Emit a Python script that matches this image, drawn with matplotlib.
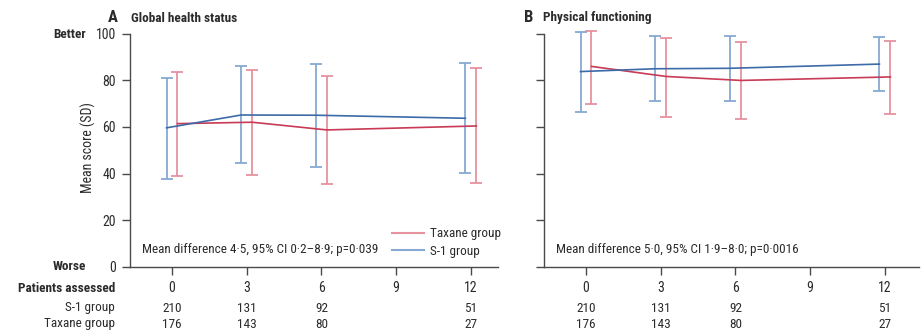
import matplotlib
matplotlib.use("Agg")
import matplotlib.pyplot as plt
from matplotlib import font_manager

# ---------------- data ----------------
months = [0, 3, 6, 12]
tick_months = [0, 3, 6, 9, 12]
tick_labels = ["0", "3", "6", "9", "12"]
yticks = [0, 20, 40, 60, 80, 100]

a_s1_mean = [59.6, 65.1, 65.0, 63.7]
a_s1_upper = [81.0, 85.9, 87.1, 87.3]
a_s1_lower = [37.7, 44.7, 43.0, 40.4]
a_tax_mean = [61.4, 62.0, 58.7, 60.4]
a_tax_upper = [83.6, 84.4, 81.7, 85.1]
a_tax_lower = [38.9, 39.3, 35.4, 35.9]

b_s1_mean = [83.7, 84.9, 85.1, 86.9]
b_s1_upper = [100.6, 99.1, 98.9, 98.3]
b_s1_lower = [66.3, 70.9, 71.3, 75.4]
b_tax_mean = [85.9, 81.6, 79.9, 81.4]
b_tax_upper = [100.9, 98.0, 96.3, 97.0]
b_tax_lower = [69.6, 64.4, 63.4, 65.7]

n_s1 = ["210", "131", "92", "51"]
n_tax = ["176", "143", "80", "27"]

title_a = "Global health status"
title_b = "Physical functioning"
note_a = "Mean difference 4\u00b75, 95% CI 0\u00b72\u20138\u00b79; p=0\u00b7039"
note_b = "Mean difference 5\u00b70, 95% CI 1\u00b79\u20138\u00b70; p=0\u00b70016"

# ---------------- style ----------------
def pick_font():
    for name in ["Liberation Sans Narrow", "Roboto Condensed", "Open Sans Condensed"]:
        try:
            font_manager.findfont(name, fallback_to_default=False)
            return name
        except Exception:
            pass
    return "Liberation Sans"

FONT = pick_font()
plt.rcParams['font.family'] = [FONT, 'DejaVu Sans']

TXT = "#2b2b2b"
AX = "#4a4a4a"
BLUE = "#3d6aa8"
BLUE_L = "#86a9d3"
RED = "#c83a55"
RED_L = "#e6929f"
FS = 9.5

W, H = 923, 332
fig = plt.figure(figsize=(W / 100, H / 100), dpi=100)

def px_to_fig(x0, x1, ytop, ybot):
    return [x0 / W, 1 - ybot / H, (x1 - x0) / W, (ybot - ytop) / H]

axA = fig.add_axes(px_to_fig(130, 498, 33.5, 267))
axB = fig.add_axes(px_to_fig(544, 919, 33.5, 267))

OFF = 0.22

def draw(ax, s1m, s1u, s1l, tm, tu, tl, xr):
    xs1 = [m - OFF for m in months]
    xtx = [m + OFF for m in months]
    ax.errorbar(xs1, s1m,
                yerr=[[m - l for m, l in zip(s1m, s1l)], [u - m for m, u in zip(s1m, s1u)]],
                fmt='none', ecolor=BLUE_L, elinewidth=1.3, capsize=4.5, capthick=1.3,
                clip_on=False, zorder=2)
    ax.errorbar(xtx, tm,
                yerr=[[m - l for m, l in zip(tm, tl)], [u - m for m, u in zip(tm, tu)]],
                fmt='none', ecolor=RED_L, elinewidth=1.3, capsize=4.5, capthick=1.3,
                clip_on=False, zorder=2)
    ax.plot(xtx, tm, color=RED, lw=1.2, zorder=3, clip_on=False)
    ax.plot(xs1, s1m, color=BLUE, lw=1.2, zorder=3, clip_on=False)
    ax.set_xlim(-1.687, xr)
    ax.set_ylim(0, 100)
    ax.set_xticks(tick_months)
    ax.set_xticklabels(tick_labels)
    ax.set_yticks(yticks)
    for s in ["top", "right"]:
        ax.spines[s].set_visible(False)
    for s in ["left", "bottom"]:
        ax.spines[s].set_color(AX)
        ax.spines[s].set_linewidth(1.0)
    ax.tick_params(axis='both', colors=AX, length=6, width=1.0, labelcolor=TXT,
                   labelsize=FS + 0.5, pad=4)
    ax.patch.set_alpha(0)

draw(axA, a_s1_mean, a_s1_upper, a_s1_lower, a_tax_mean, a_tax_upper, a_tax_lower, 13.09)
draw(axB, b_s1_mean, b_s1_upper, b_s1_lower, b_tax_mean, b_tax_upper, b_tax_lower, 13.37)
axB.set_yticklabels([])

# titles
fig.text(108 / W, 1 - 18 / H, "A", fontsize=12, fontweight='bold', color=TXT, va='center', ha='left')
fig.text(131 / W, 1 - 18 / H, title_a, fontsize=FS, fontweight='bold', color=TXT, va='center', ha='left')
fig.text(524 / W, 1 - 18 / H, "B", fontsize=12, fontweight='bold', color=TXT, va='center', ha='left')
fig.text(543 / W, 1 - 18 / H, title_b, fontsize=FS, fontweight='bold', color=TXT, va='center', ha='left')

# better / worse
fig.text(53 / W, 1 - 34 / H, "Better", fontsize=FS, fontweight='bold', color=TXT, va='center', ha='left')
fig.text(53 / W, 1 - 267 / H, "Worse", fontsize=FS, fontweight='bold', color=TXT, va='center', ha='left')
fig.text(88 / W, 1 - 148 / H, "Mean score (SD)", fontsize=FS + 0.5, color=TXT, va='center', ha='center',
         rotation=90)

# notes
fig.text(142 / W, 1 - 249 / H, note_a, fontsize=FS, color=TXT, va='center', ha='left')
fig.text(556 / W, 1 - 249 / H, note_b, fontsize=FS, color=TXT, va='center', ha='left')

# legend
from matplotlib.lines import Line2D
handles = [Line2D([0], [0], color=RED_L, lw=1.5), Line2D([0], [0], color=BLUE_L, lw=1.5)]
leg = axA.legend(handles, ["Taxane group", "S-1 group"], loc='lower left',
                 bbox_to_anchor=((392 - 130) / 368, (267 - 258) / 233.5),
                 frameon=False, fontsize=FS, handlelength=2.4, handletextpad=0.5,
                 labelspacing=0.35, borderaxespad=0, borderpad=0)
for t in leg.get_texts():
    t.set_color(TXT)

# patients assessed table
fig.text(115 / W, 1 - 289 / H, "Patients assessed", fontsize=FS, fontweight='bold', color=TXT,
         va='center', ha='right')
fig.text(115 / W, 1 - 307 / H, "S-1 group", fontsize=FS, color=TXT, va='center', ha='right')
fig.text(115 / W, 1 - 324 / H, "Taxane group", fontsize=FS, color=TXT, va='center', ha='right')
for ax in (axA, axB):
    trans = ax.get_xaxis_transform()
    for m, a, b in zip(months, n_s1, n_tax):
        ax.text(m, -(308 - 267) / 233.5, a, transform=trans, fontsize=FS, color=TXT,
                ha='center', va='center', clip_on=False)
        ax.text(m, -(325 - 267) / 233.5, b, transform=trans, fontsize=FS, color=TXT,
                ha='center', va='center', clip_on=False)

fig.savefig("out.png", dpi=100)
